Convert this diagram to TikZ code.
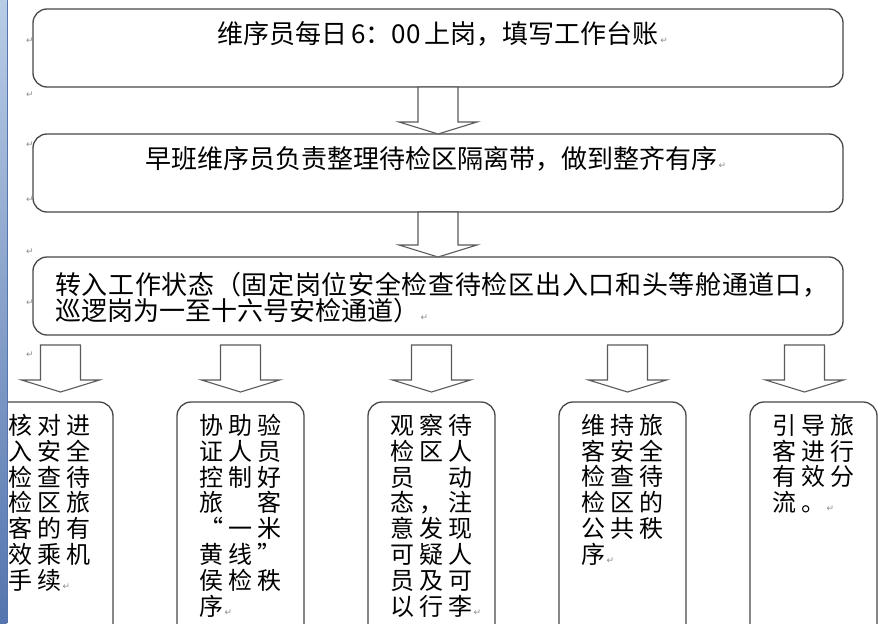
\documentclass[tikz,border=0pt]{standalone}
\usepackage{fontspec}
\usetikzlibrary{positioning,calc}
\newfontfamily\cjk{Noto Sans CJK SC}
\newfontfamily\cjkwide{Noto Sans CJK SC}[LetterSpace=20.8]
\newfontfamily\cjkline{Noto Sans CJK SC}[LetterSpace=2.6]
\newfontfamily\markfont{DejaVu Sans}
\definecolor{boxgray}{HTML}{474747}
\definecolor{arrowgray}{HTML}{5A5A5A}
\definecolor{markgray}{HTML}{8C8C8C}
\definecolor{barlight}{HTML}{B9CCE6}
\definecolor{bardark}{HTML}{5475AE}
\newcommand{\pmk}{\rlap{\markfont\fontsize{9}{9}\selectfont\color{markgray}\,↵}}
% hollow block arrow: shaft top, tip
\newcommand{\blockarrow}[2]{%
  \path (#1) coordinate (ba-top) (#2) coordinate (ba-tip);
  \draw[hollowarrow] ($(ba-top)+(-20,0)$) -- ($(ba-tip)+(-20,-12)$) -- ($(ba-tip)+(-39,-12)$)
    -- (ba-tip) -- ($(ba-tip)+(39,-12)$) -- ($(ba-tip)+(20,-12)$) -- ($(ba-top)+(20,0)$) -- cycle;}

\begin{document}
\begin{tikzpicture}[x=1pt,y=-1pt,
   panel/.style={draw=boxgray,line width=1.3pt,rounded corners=14pt,inner sep=0pt,outer sep=0pt},
   stepbox/.style={panel,minimum width=810pt,minimum height=78pt},
   taskbox/.style={panel,minimum width=127pt,minimum height=270pt},
   steptext/.style={font=\cjk\fontsize{26}{25}\selectfont,inner sep=0pt,align=left},
   tasktext/.style={font=\cjkwide\fontsize{24}{25.8}\selectfont,inner sep=0pt,align=left},
   pmark/.style={font=\markfont\fontsize{9}{9}\selectfont,text=markgray,inner sep=0pt},
   hollowarrow/.style={draw=arrowgray,line width=1.1pt,fill=white,line join=miter}]
 \useasboundingbox (0,0) rectangle (882,623);
 \clip (0,0) rectangle (882,623);
 \fill[white] (0,0) rectangle (882,623);
 % main steps
 \node[stepbox,anchor=north west] (step1) at (33,9) {};
 \node[stepbox,below=47pt of step1] (step2) {};
 \node[stepbox,below=45pt of step2] (step3) {};
 \node[steptext,below=12pt of step1.north] (step1txt) {维序员每日\,6：00\,上岗，填写工作台账\pmk};
 \node[steptext,below=12pt of step2.north,xshift=-7pt] (step2txt) {早班维序员负责整理待检区隔离带，做到整齐有序\pmk};
 \node[steptext,below right=15pt and 22pt of step3.north west] (step3txt)
   {{\cjkline 转入工作状态（固定岗位安全检查待检区出入口和头等舱通道口，}\\巡逻岗为一至十六号安检通道）\pmk};
 \blockarrow{step1.south}{step2.north}
 \blockarrow{step2.south}{step3.north}
 % duties
 \node[taskbox,anchor=north west] (taskA) at (-14,402) {};
 \node[taskbox,right=64pt of taskA] (taskB) {};
 \node[taskbox,right=64pt of taskB] (taskC) {};
 \node[taskbox,right=64pt of taskC] (taskD) {};
 \node[taskbox,right=64pt of taskD] (taskE) {};
 \node[tasktext,below right=12pt and 22pt of taskA.north west] (taskAtxt)
   {核对进\\入安全\\检查待\\检区旅\\客的有\\效乘机\\手续\pmk};
 \node[tasktext,below right=12pt and 22pt of taskB.north west] (taskBtxt)
   {协助验\\证人员\\控制好\\旅　客\\“一米\\黄线”\\侯检秩\\序\pmk};
 \node[tasktext,below right=12pt and 22pt of taskC.north west] (taskCtxt)
   {观察待\\检区人\\员　动\\态，注\\意发现\\可疑人\\员及可\\以行李\pmk};
 \node[tasktext,below right=12pt and 22pt of taskD.north west] (taskDtxt)
   {维持旅\\客安全\\检查待\\检区的\\公共秩\\序\pmk};
 \node[tasktext,below right=12pt and 22pt of taskE.north west] (taskEtxt)
   {引导旅\\客进行\\有效分\\流。\pmk};
 \foreach \t/\dx in {taskA/11,taskB/0,taskC/0,taskD/5,taskE/-9}
   \blockarrow{$(\t.north |- step3.south)+(\dx,10)$}{$(\t.north)+(\dx,-10)$};
 % margin marks
 \foreach \y [count=\i] in {41,95,145,200,252,303,355}
   \node[pmark] (mark\i) at (30,\y) {↵};
 \shade[top color=barlight,bottom color=bardark] (0,0) rectangle (6.5,623);
 \draw[bardark,line width=1.5pt] (7.3,0) -- (7.3,623);
\end{tikzpicture}
\end{document}
